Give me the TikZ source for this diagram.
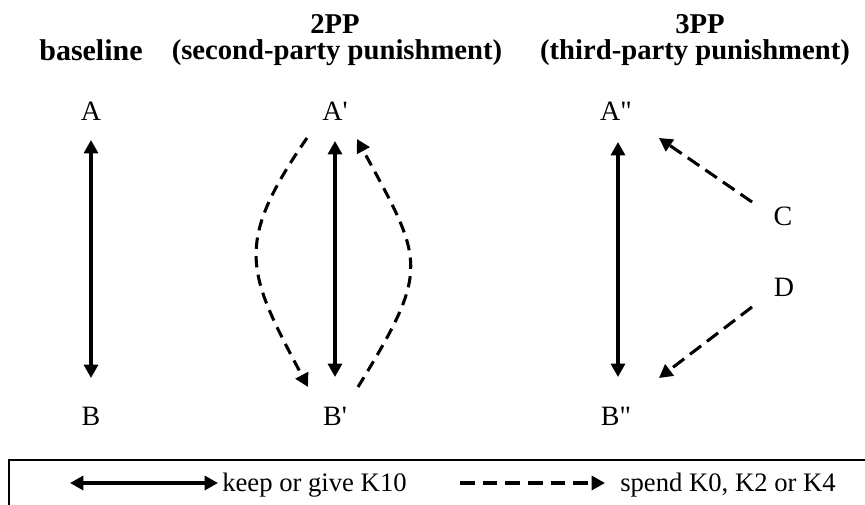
\documentclass[tikz,border=0pt]{standalone}
\usepackage{fontspec}
\setmainfont{Liberation Serif}[Ligatures=TeXOff]
\usetikzlibrary{arrows.meta,calc}
\begin{document}
\begin{tikzpicture}[x=0.75pt,y=-0.75pt,
  lbl/.style={inner sep=0pt,anchor=base,font=\fontsize{21}{25}\selectfont},
  head/.style={inner sep=0pt,anchor=base,font=\fontsize{21.5}{26}\selectfont\bfseries},
  legtext/.style={inner sep=0pt,anchor=base west,font=\fontsize{20}{24}\selectfont},
  tipstyle/.style={-{Triangle[length=10pt,width=10.5pt]}},
  both/.style={line width=2.3pt,{Triangle[length=10pt,width=10.5pt]}-{Triangle[length=10pt,width=10.5pt]}},
  spend/.style={line width=2.3pt,tipstyle,dash pattern=on 10.5pt off 5.5pt},
  spendcurve/.style={line width=2.3pt,tipstyle,dash pattern=on 8.5pt off 5.5pt}]
\useasboundingbox (0,0) rectangle (865,505);

% headings
\node[head,font=\fontsize{22.5}{27}\selectfont\bfseries] (hbase) at (91,61) {baseline};
\node[head] (h2) at (335,34) {2PP};
\node[head] (h2s) at (337,60) {(second-party punishment)};
\node[head] (h3) at (700,34) {3PP};
\node[head] (h3s) at (695,60) {(third-party punishment)};

% baseline
\node[lbl] (A) at (91,121) {A};
\node[lbl] (B) at (91,426) {B};
\draw[both] ($(A.base)+(0,19)$) -- ($(B.base)+(0,-48)$);

% 2PP
\node[lbl] (A2) at (335,121) {A'};
\node[lbl] (B2) at (335,426) {B'};
\draw[both] ($(A2.base)+(0,20)$) -- ($(B2.base)+(0,-49)$);
\draw[spendcurve] ($(A2.base)+(-28,17)$) .. controls (233,245) and (247,272) .. ($(B2.base)+(-27,-39)$);
\draw[spendcurve] ($(B2.base)+(23,-39)$) .. controls (431,268) and (424,262) .. ($(A2.base)+(22,18)$);

% 3PP
\node[lbl] (A3) at (616,121) {A"};
\node[lbl] (B3) at (616,426) {B"};
\node[lbl] (C) at (783,226) {C};
\node[lbl] (D) at (784,297) {D};
\draw[both] ($(A3.base)+(2,21)$) -- ($(B3.base)+(2,-49)$);
\draw[spend] ($(C.base)+(-31,-24)$) -- ($(A3.base)+(43,17)$);
\draw[spend] ($(D.base)+(-32,10)$) -- ($(B3.base)+(43,-48)$);

% legend
\coordinate (boxbl) at (9,530);
\coordinate (boxtl) at (9,460);
\coordinate (boxtr) at (890,460);
\draw[line width=1.4pt] (boxbl) -- (boxtl) -- (boxtr);
\node[legtext] (leg1) at (222,492) {keep or give K10};
\node[legtext] (leg2) at (620,492) {spend K0, K2 or K4};
\coordinate (l1) at (70,483);
\coordinate (l2) at (460,483);
\draw[both] (l1) -- ($(leg1.base west |- l1)+(-4,0)$);
\draw[spend,dash pattern=on 11pt off 6pt] (l2) -- ($(leg2.base west |- l2)+(-15,0)$);
\end{tikzpicture}
\end{document}
